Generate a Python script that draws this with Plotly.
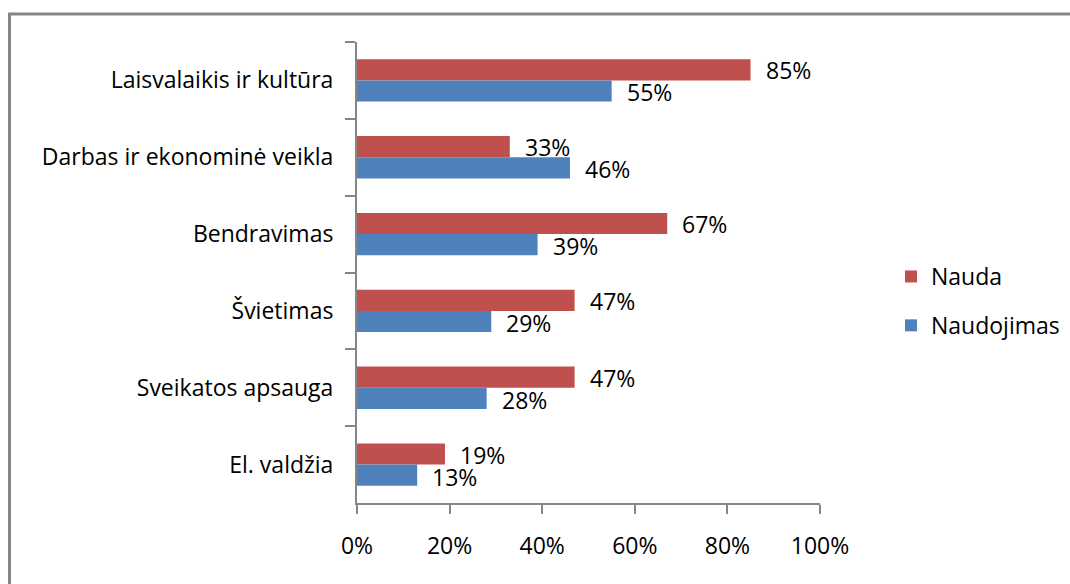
import plotly.graph_objects as go

# Survey categories, top to bottom
categories = [
    "Laisvalaikis ir kultūra",
    "Darbas ir ekonominė veikla",
    "Bendravimas",
    "Švietimas",
    "Sveikatos apsauga",
    "El. valdžia",
]
nauda = [0.85, 0.33, 0.67, 0.47, 0.47, 0.19]
naudojimas = [0.55, 0.46, 0.39, 0.29, 0.28, 0.13]
x_ticks = [0, 0.2, 0.4, 0.6, 0.8, 1.0]
x_tick_labels = ["0%", "20%", "40%", "60%", "80%", "100%"]

RED = "#C0504D"
BLUE = "#4F81BD"
GRAY = "#868686"
FONT = "Open Sans"
FS = 23

W, H = 1070, 584
ML, MR, MT, MB = 357, 250, 42, 81
PW, PH = W - ML - MR, H - MT - MB

fig = go.Figure()
fig.add_trace(go.Bar(
    name="Nauda", y=categories, x=nauda, orientation="h",
    marker=dict(color=RED, line=dict(width=0)), legendgroup="a",
))
fig.add_trace(go.Bar(
    name="Naudojimas", y=categories, x=naudojimas, orientation="h",
    marker=dict(color=BLUE, line=dict(width=0)), legendgroup="b",
))

# value labels to the right of each bar
annotations = []
for cat, a, b in zip(categories, nauda, naudojimas):
    for val, shift in ((a, 10), (b, -12)):
        annotations.append(dict(
            x=val, y=cat, xref="x", yref="y", text=f"{round(val * 100)}%",
            showarrow=False, xanchor="left", yanchor="middle",
            xshift=13, yshift=shift, font=dict(family=FONT, size=FS, color="#000"),
        ))

# outer frame of the chart area (left and top edges visible)
x0 = (9.5 - ML) / PW
y0 = 1 + (MT - 14) / PH
shapes = [dict(
    type="path", xref="paper", yref="paper",
    path=f"M {x0},-0.5 L {x0},{y0} L 1.6,{y0}",
    line=dict(color=GRAY, width=3),
)]

fig.update_layout(
    width=W, height=H,
    margin=dict(l=ML, r=MR, t=MT, b=MB, pad=0, autoexpand=False),
    paper_bgcolor="white", plot_bgcolor="white",
    barmode="group", bargap=0.45, bargroupgap=0,
    font=dict(family=FONT, size=FS, color="#000"),
    xaxis=dict(
        range=[0, 1], tickvals=x_ticks, ticktext=x_tick_labels,
        showgrid=False, zeroline=False, showline=True, linecolor=GRAY, linewidth=2,
        ticks="outside", ticklen=9, tickcolor=GRAY, tickwidth=1.5,
        ticklabelstandoff=12, tickfont=dict(family=FONT, size=FS, color="#000"),
    ),
    yaxis=dict(
        type="category", autorange="reversed", tickson="boundaries",
        showgrid=False, zeroline=False, showline=True, linecolor=GRAY, linewidth=2,
        ticks="outside", ticklen=10, tickcolor=GRAY, tickwidth=1.5,
        ticklabelstandoff=17, tickfont=dict(family=FONT, size=FS, color="#000"),
    ),
    legend=dict(
        x=(891 - ML) / PW, xanchor="left", y=1 - (301 - MT) / PH, yanchor="middle",
        font=dict(family=FONT, size=FS, color="#000"), tracegroupgap=16,
        bgcolor="rgba(0,0,0,0)", traceorder="grouped",
    ),
    annotations=annotations,
    shapes=shapes,
)

fig.write_html("out.html")
